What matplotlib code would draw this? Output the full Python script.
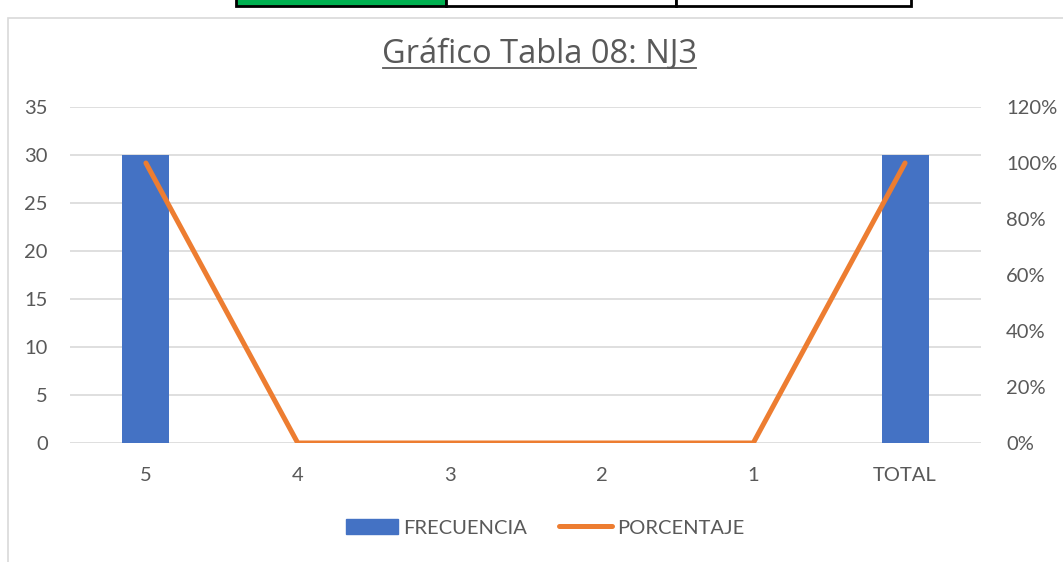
import matplotlib.pyplot as plt
from matplotlib.patches import Rectangle
from matplotlib.lines import Line2D
from matplotlib.ticker import FuncFormatter

# data
categorias = ['5', '4', '3', '2', '1', 'TOTAL']
frecuencia = [30, 0, 0, 0, 0, 30]
porcentaje = [1.0, 0, 0, 0, 0, 1.0]
titulo = 'Gráfico Tabla 08: NJ3'

W, H = 1063, 562
plt.rcParams['font.family'] = ['Lato', 'DejaVu Sans']
gris = '#595959'

fig = plt.figure(figsize=(W / 100, H / 100), dpi=100)

def px(x0, y0, x1, y1):
    # pixel box -> figure fraction [l, b, w, h]
    return [x0 / W, 1 - y1 / H, (x1 - x0) / W, (y1 - y0) / H]

# excel cells peeking at the top
for (x0, x1), fc in zip([(236, 446), (446, 676), (676, 911)], ['#00b050', 'white', 'white']):
    l, b, w, h = px(x0, -5, x1, 6)
    fig.patches.append(Rectangle((l, b), w, h, transform=fig.transFigure,
                                 facecolor=fc, edgecolor='black', lw=2))

# chart border
l, b, w, h = px(8, 18, 1080, 580)
fig.patches.append(Rectangle((l, b), w, h, transform=fig.transFigure,
                             facecolor='none', edgecolor='#d9d9d9', lw=1.2))

ax = fig.add_axes(px(70, 107, 981, 443))
x = list(range(len(categorias)))
ax.bar(x, frecuencia, width=0.31, color='#4472c4', zorder=2)
ax.set_ylim(0, 35)
ax.set_yticks(range(0, 36, 5))
ax.set_xlim(-0.5, len(categorias) - 0.5)
ax.set_xticks(x)
ax.set_xticklabels(categorias)
ax.grid(axis='y', color='#d9d9d9', lw=1.2, zorder=0)
ax.set_axisbelow(True)
for s in ax.spines.values():
    s.set_visible(False)
ax.tick_params(length=0, labelsize=14.5, colors=gris)
ax.tick_params(axis='x', pad=17)
ax.tick_params(axis='y', pad=16)

ax2 = ax.twinx()
ax2.plot(x, porcentaje, color='#ed7d31', lw=3.6, solid_capstyle='round', zorder=3)
ax2.set_ylim(0, 1.2)
ax2.set_yticks([i / 5 for i in range(7)])
ax2.yaxis.set_major_formatter(FuncFormatter(lambda v, p: f'{v:.0%}'))
for s in ax2.spines.values():
    s.set_visible(False)
ax2.tick_params(length=0, labelsize=14.5, colors=gris, pad=18)

fig.text(539 / W, 1 - 63 / H, titulo, ha='center', va='baseline', fontsize=23.5,
         color=gris, fontfamily='Open Sans')
# underline
fig.add_artist(Line2D([383 / W, 696 / W], [1 - 68 / H, 1 - 68 / H], color=gris, lw=1.3))

handles = [Rectangle((0, 0), 1, 1, color='#4472c4'),
           Line2D([0], [0], color='#ed7d31', lw=3.6, solid_capstyle='round')]
fig.legend(handles, ['FRECUENCIA', 'PORCENTAJE'], loc='center', bbox_to_anchor=(545 / W, 1 - 528 / H),
           ncol=2, frameon=False, fontsize=14.5, labelcolor=gris, handlelength=2.6,
           handleheight=0.75, handletextpad=0.25, columnspacing=1.6)

fig.savefig('out.png', dpi=100)
